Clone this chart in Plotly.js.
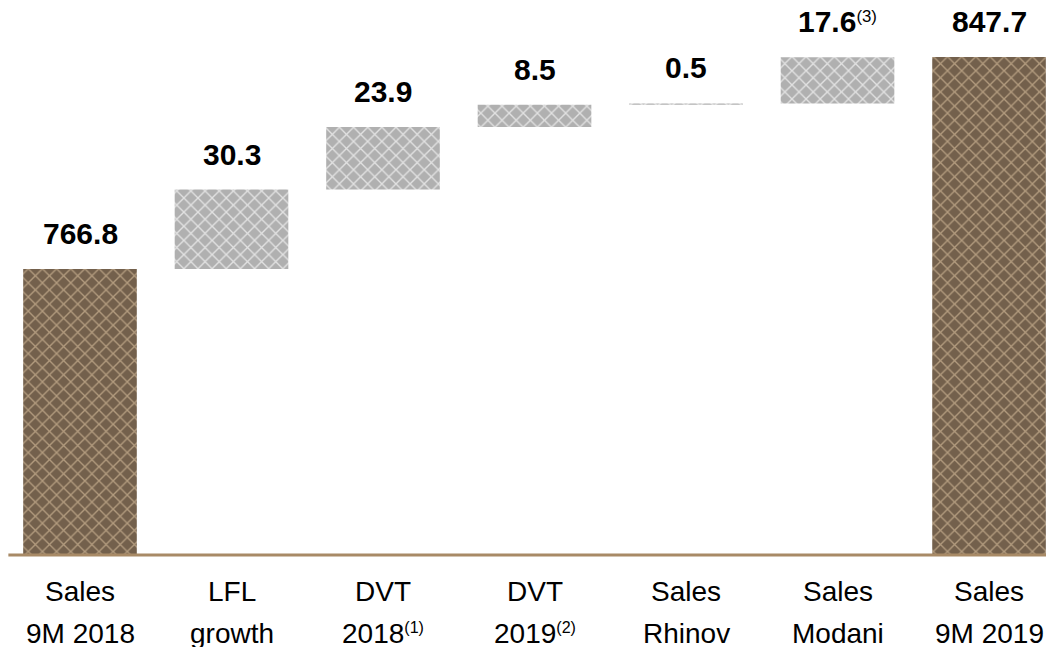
<!DOCTYPE html>
<html>
<head>
<meta charset="utf-8">
<script src="https://cdn.plot.ly/plotly-3.0.1.min.js"></script>
<style>html,body{margin:0;padding:0;background:#fff;}#chart{width:1046px;height:647px;}</style>
</head>
<body>
<div id="chart"></div>
<script>
// ---- data ----
const labelLine1 = ['Sales', 'LFL', 'DVT', 'DVT', 'Sales', 'Sales', 'Sales'];
const labelLine2 = ['9M 2018', 'growth', '2018', '2019', 'Rhinov', 'Modani', '9M 2019'];
const labelNotes = ['', '', '(1)', '(2)', '', '', ''];
const values = [766.8, 30.3, 23.9, 8.5, 0.5, 17.6, 847.7];
const measures = ['total', 'relative', 'relative', 'relative', 'relative', 'relative', 'total'];
const valueNotes = ['', '', '', '', '', '(3)', ''];

// ---- derived ----
const keys = labelLine1.map((a, i) => a + ' ' + labelLine2[i]);
let running = 0;
const bases = [], tops = [];
values.forEach((v, i) => {
  if (measures[i] === 'total') { bases.push(null); tops.push(v); running = v; }
  else { bases.push(running); running += v; tops.push(running); }
});

const totX = [], totY = [], relX = [], relY = [], relB = [];
keys.forEach((k, i) => {
  if (measures[i] === 'total') { totX.push(k); totY.push(values[i]); }
  else { relX.push(k); relY.push(values[i]); relB.push(bases[i]); }
});

const traces = [
  {
    type: 'bar', x: totX, y: totY, width: 0.75,
    marker: {
      color: '#76624e',
      line: {width: 0},
      pattern: {shape: 'x', fgcolor: '#b29b7e', bgcolor: '#73604c', size: 10, solidity: 0.25}
    },
    hoverinfo: 'skip'
  },
  {
    type: 'bar', x: relX, y: relY, base: relB, width: 0.75,
    marker: {
      color: '#b5b5b5',
      line: {width: 0},
      pattern: {shape: 'x', fgcolor: '#e2e2e2', bgcolor: '#b0b0b0', size: 10, solidity: 0.25}
    },
    hoverinfo: 'skip'
  }
];

const FONT = 'Liberation Sans, Arial, sans-serif';
const annotations = [];
keys.forEach((k, i) => {
  const note = valueNotes[i] ? '<span style="font-weight:normal;font-size:24px"><sup>' + valueNotes[i] + '</sup></span>' : '';
  annotations.push({
    x: k, y: tops[i], xref: 'x', yref: 'y', yanchor: 'bottom', yshift: 17,
    text: '<b>' + values[i].toFixed(1) + '</b>' + note,
    showarrow: false,
    font: {family: FONT, size: 30, color: '#000'}
  });
  annotations.push({
    x: k, y: 0, xref: 'x', yref: 'paper', yanchor: 'middle', yshift: -36,
    text: labelLine1[i], showarrow: false,
    font: {family: FONT, size: 28, color: '#000'}
  });
  const n2 = labelNotes[i] ? '<span style="font-size:23px"><sup>' + labelNotes[i] + '</sup></span>' : '';
  annotations.push({
    x: k, y: 0, xref: 'x', yref: 'paper', yanchor: 'middle', yshift: -78,
    text: labelLine2[i] + n2, showarrow: false,
    font: {family: FONT, size: 28, color: '#000'}
  });
});

const layout = {
  width: 1046, height: 647,
  margin: {l: 0, r: 0, t: 0, b: 92},
  paper_bgcolor: '#fff', plot_bgcolor: '#fff',
  showlegend: false,
  barmode: 'overlay',
  xaxis: {
    type: 'category', categoryorder: 'array', categoryarray: keys,
    range: [-0.528, 6.376], showticklabels: false, showgrid: false, zeroline: false, showline: false, ticks: ''
  },
  yaxis: {
    range: [657.66, 869.45], visible: false, showgrid: false, zeroline: false
  },
  shapes: [{
    type: 'line', xref: 'paper', yref: 'paper', x0: 0.008, x1: 1, y0: 0, y1: 0,
    line: {color: '#a88a66', width: 3}, layer: 'above'
  }],
  annotations: annotations
};

Plotly.newPlot('chart', traces, layout, {displayModeBar: false, staticPlot: true});
</script>
</body>
</html>
